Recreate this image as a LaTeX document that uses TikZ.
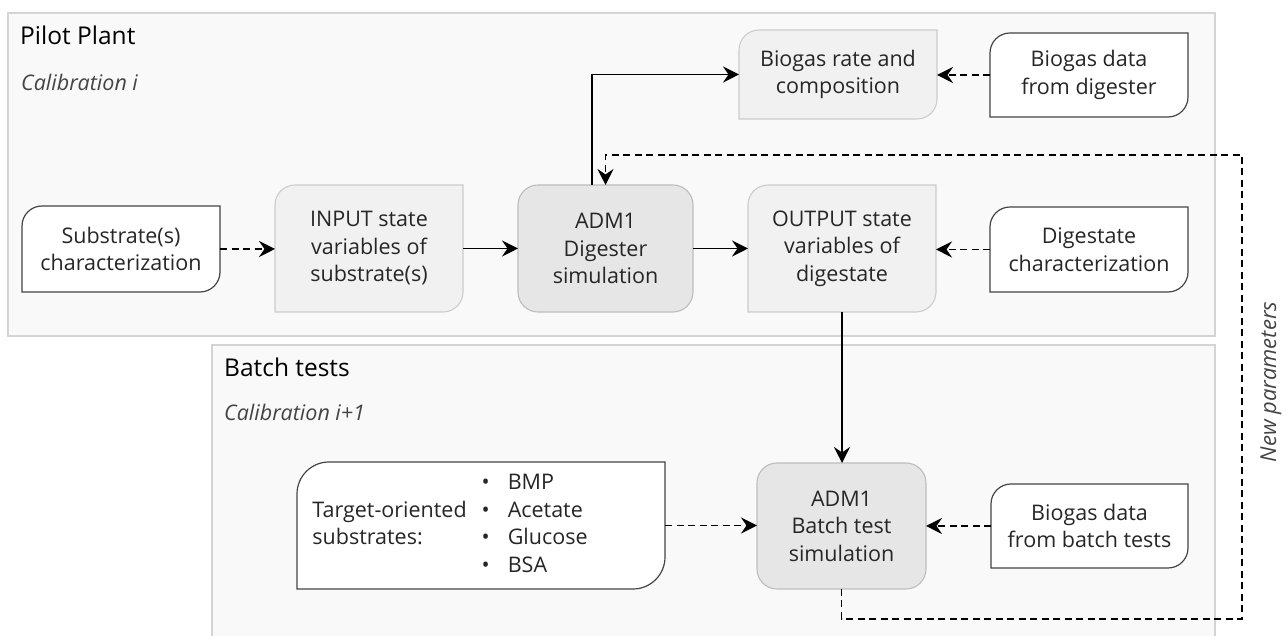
\documentclass[tikz,border=0pt]{standalone}
\usepackage{fontspec}
\setmainfont{Open Sans}
\usetikzlibrary{arrows.meta,calc}
\pgfdeclarelayer{frames}
\pgfdeclarelayer{boxes}
\pgfsetlayers{frames,boxes,main}
\definecolor{framefill}{HTML}{F9F9F9}
\definecolor{frameline}{HTML}{D4D4D4}
\definecolor{lightfill}{HTML}{F1F1F1}
\definecolor{lightline}{HTML}{CCCCCC}
\definecolor{darkfill}{HTML}{E6E6E6}
\definecolor{darkline}{HTML}{BDBDBD}
\definecolor{whiteline}{HTML}{444444}
\definecolor{txtc}{HTML}{262626}
\definecolor{calc}{HTML}{444444}
\newcommand\mycut[3]{%
  \draw[#3] (#1.south west) -- ([yshift=-#2]#1.north west)
    arc[start angle=180,end angle=90,radius=#2] -- (#1.north east)
    -- ([yshift=#2]#1.south east)
    arc[start angle=0,end angle=-90,radius=#2] -- cycle;}
\tikzset{
  txt/.style={align=center, inner sep=0pt, outer sep=0pt, text=txtc,
    font=\fontsize{21.5}{27.5}\selectfont},
  wbox/.style={fill=white, draw=whiteline, line width=1.2pt},
  gbox/.style={fill=lightfill, draw=lightline, line width=1.1pt},
  dbox/.style={fill=darkfill, draw=darkline, line width=1.1pt, rounded corners=20pt},
  framebox/.style={fill=framefill, draw=frameline, line width=1.3pt},
  sarrow/.style={draw=black, line width=1.8pt, -{Stealth[length=16pt,width=16pt,inset=5.5pt]}},
  darrow/.style={sarrow, dash pattern=on 7pt off 4.5pt},
  ttl/.style={anchor=base west, inner sep=0pt, font=\fontsize{24.5}{30}\selectfont, text=black},
  cal/.style={anchor=base west, inner sep=0pt, font=\fontsize{21.5}{26}\selectfont\itshape, text=calc},
}
\begin{document}
\begin{tikzpicture}[x=1pt,y=1pt]
\useasboundingbox (0,0) rectangle (1288,636);
% frames
\begin{pgfonlayer}{frames}
  \draw[framebox] (8,300) rectangle (1215,623);
  \fill[framefill] (212,0) rectangle (1215,291);
  \draw[frameline, line width=1.3pt] (212,0) -- (212,291) -- (1215,291) -- (1215,0);
\end{pgfonlayer}
% titles
\node[ttl] (t1) at (20,591) {Pilot Plant};
\node[cal] (c1) at (21,545) {Calibration i};
\node[ttl] (t2) at (224,259) {Batch tests};
\node[cal] (c2) at (224,215) {Calibration i+1};
% nodes
\node[txt, minimum width=198pt, minimum height=86pt] (sub) at (121,387) {Substrate(s)\\characterization};
\node[txt, minimum width=188pt, minimum height=127pt] (inp) at (369,387.5) {INPUT state\\variables of\\substrate(s)};
\node[txt, minimum width=175pt, minimum height=127pt] (adm) at (605.5,387.5) {ADM1\\Digester\\simulation};
\node[txt, minimum width=188pt, minimum height=127pt] (out) at (842,387.5) {OUTPUT state\\variables of\\digestate};
\node[txt, minimum width=198pt, minimum height=89pt] (rate) at (838,561.5) {Biogas rate and\\composition};
\node[txt, minimum width=198pt, minimum height=84pt] (bgd) at (1089,561) {Biogas data\\from digester};
\node[txt, minimum width=198pt, minimum height=85pt] (dig) at (1089,386.5) {Digestate\\characterization};
\node[txt, minimum width=368pt, minimum height=127pt] (tgt) at (481,110.5) {\begin{tabular}{@{}l@{\hspace{15pt}}c@{\hspace{18pt}}l@{}}
 & \textbullet & BMP\\
 Target-oriented & \textbullet & Acetate\\
 substrates: & \textbullet & Glucose\\
 & \textbullet & BSA
 \end{tabular}\rule{62pt}{0pt}};
\node[txt, minimum width=169pt, minimum height=126pt] (bat) at (841.5,110) {ADM1\\Batch test\\simulation};
\node[txt, minimum width=197pt, minimum height=84pt] (bgb) at (1089.5,110) {Biogas data\\from batch tests};
\node[rotate=90, inner sep=0pt, font=\fontsize{22}{26}\selectfont\itshape, text=calc] (np) at (1271,254) {New parameters};
% shapes
\begin{pgfonlayer}{boxes}
  \mycut{sub}{20pt}{wbox}
  \mycut{inp}{20pt}{gbox}
  \mycut{out}{20pt}{gbox}
  \mycut{rate}{20pt}{gbox}
  \mycut{bgd}{20pt}{wbox}
  \mycut{dig}{20pt}{wbox}
  \mycut{tgt}{32pt}{wbox}
  \mycut{bgb}{20pt}{wbox}
  \draw[dbox] (adm.south west) rectangle (adm.north east);
  \draw[dbox] (bat.south west) rectangle (bat.north east);
\end{pgfonlayer}
% connectors
\draw[darrow] (sub.east) -- (sub.east -| inp.west);
\draw[sarrow] (inp.east) -- (inp.east -| adm.west);
\draw[sarrow] (adm.east) -- (adm.east -| out.west);
\draw[sarrow] ([xshift=-13.5pt]adm.north) |- (rate.west);
\draw[darrow] (bgd.west) -- (bgd.west -| rate.east);
\draw[darrow] (dig.west) -- (dig.west -| out.east);
\draw[sarrow] (out.south) -- (out.south |- bat.north);
\draw[darrow] (tgt.east) -- (tgt.east -| bat.west);
\draw[darrow] (bgb.west) -- (bgb.west -| bat.east);
\coordinate (fb1) at (1242,17);
\coordinate (fb2) at (1242,481);
\draw[darrow] (bat.south) |- (fb1) -- (fb2) -| (adm.north);
\end{tikzpicture}
\end{document}
